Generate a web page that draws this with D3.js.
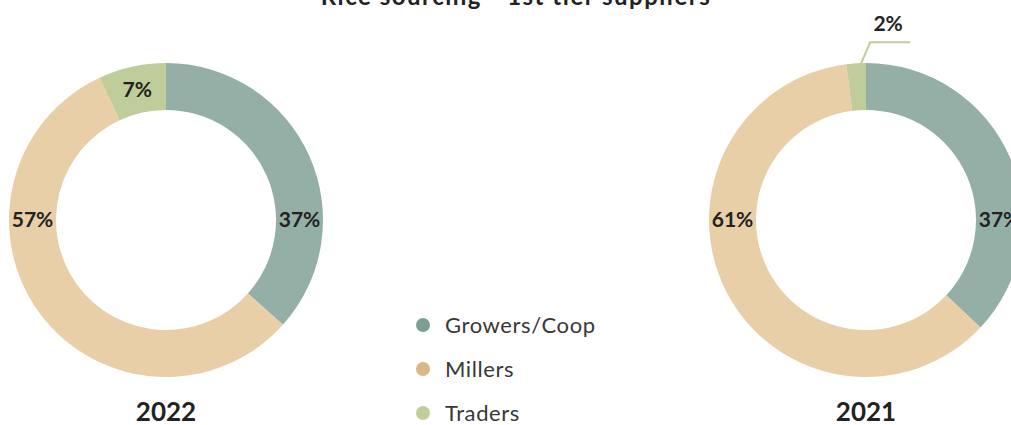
<!DOCTYPE html>
<html><head><meta charset="utf-8">
<script src="https://cdn.jsdelivr.net/npm/d3@7"></script>
<style>
html,body{margin:0;padding:0;background:#fff;overflow:hidden;}
svg{display:block;font-family:Lato,"Open Sans",sans-serif;}
</style></head>
<body>
<svg id="chart" width="1011" height="425"></svg>
<script>
const title = "Rice sourcing - 1st tier suppliers";
const categories = ["Growers/Coop", "Millers", "Traders"];
const years = ["2022", "2021"];
const values2022 = [37, 57, 7];
const values2021 = [37, 61, 2];
const sliceColors = ["#94b0a6", "#e8cfa8", "#bfcd9a"];
const legendColors = ["#7c9f92", "#d9b887", "#bfcf9a"];

const svg = d3.select("#chart");
const outerR = 157, innerR = 110;
const cy = 220;
const centersX = d3.scaleOrdinal().domain(years).range([166, 866]);
const color = d3.scaleOrdinal().domain(categories).range(sliceColors);
const legColor = d3.scaleOrdinal().domain(categories).range(legendColors);

svg.append("text").attr("x", 516).attr("y", 5)
  .attr("text-anchor", "middle").attr("font-size", 24).attr("font-weight", 700)
  .attr("letter-spacing", 1.5)
  .attr("fill", "#222").text(title);

const pie = d3.pie().sort(null).value(d => d.v);
const arc = d3.arc().innerRadius(innerR).outerRadius(outerR);
const midR = (innerR + outerR) / 2;

function drawDonut(year, vals) {
  const data = categories.map((c, i) => ({c, v: vals[i]}));
  const arcs = pie(data);
  const g = svg.append("g").attr("transform", `translate(${centersX(year)},${cy})`);
  g.selectAll("path").data(arcs).join("path")
    .attr("d", arc).attr("fill", d => color(d.data.c));

  arcs.forEach(a => {
    const label = a.data.v + "%";
    const small = a.data.v < 4;
    if (small) {
      const mid = (a.startAngle + a.endAngle) / 2;
      const p0 = [outerR * Math.sin(mid) + 5, -outerR * Math.cos(mid)];
      const p1 = [p0[0] + 9, p0[1] - 21];
      const p2 = [p1[0] + 40, p1[1]];
      g.append("polyline")
        .attr("points", [p0, p1, p2].map(p => p.join(",")).join(" "))
        .attr("fill", "none").attr("stroke", color(a.data.c)).attr("stroke-width", 2);
      g.append("text").attr("x", p1[0] + 18).attr("y", p1[1] - 11)
        .attr("text-anchor", "middle").attr("font-size", 21).attr("font-weight", 700)
        .attr("fill", "#222").text(label);
      return;
    }
    let ang = (a.startAngle + a.endAngle) / 2;
    if (a.startAngle <= Math.PI / 2 && a.endAngle >= Math.PI / 2) ang = Math.PI / 2;
    else if (a.startAngle <= 3 * Math.PI / 2 && a.endAngle >= 3 * Math.PI / 2) ang = 3 * Math.PI / 2;
    g.append("text")
      .attr("x", midR * Math.sin(ang)).attr("y", -midR * Math.cos(ang))
      .attr("dy", "0.35em").attr("text-anchor", "middle")
      .attr("font-size", 21).attr("font-weight", 700).attr("fill", "#222")
      .text(label);
  });

  svg.append("text").attr("x", centersX(year)).attr("y", 421)
    .attr("text-anchor", "middle").attr("font-size", 26).attr("font-weight", 700)
    .attr("fill", "#222").text(year);
}
drawDonut("2022", values2022);
drawDonut("2021", values2021);

const legY = d3.scalePoint().domain(categories).range([325, 413]);
const leg = svg.append("g");
categories.forEach(c => {
  leg.append("circle").attr("cx", 423).attr("cy", legY(c)).attr("r", 7).attr("fill", legColor(c));
  leg.append("text").attr("x", 445).attr("y", legY(c)).attr("dy", "0.36em")
    .attr("font-size", 22).attr("letter-spacing", 0.6).attr("fill", "#383838").text(c);
});
</script>
</body></html>
